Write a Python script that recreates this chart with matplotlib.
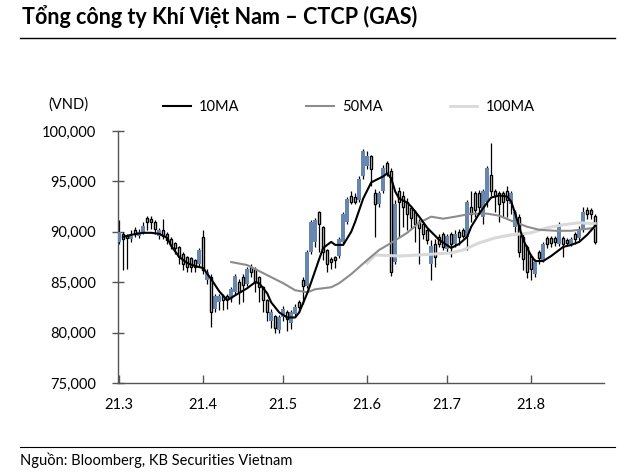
import numpy as np
import matplotlib
matplotlib.use('Agg')
import matplotlib.pyplot as plt
from matplotlib.lines import Line2D
from matplotlib.ticker import FuncFormatter

plt.rcParams['font.family'] = ['Lato', 'DejaVu Sans']

TITLE = 'Tổng công ty Khí Việt Nam – CTCP (GAS)'
SOURCE = 'Nguồn: Bloomberg, KB Securities Vietnam'
UNIT = '(VND)'

month_labels = ['21.3', '21.4', '21.5', '21.6', '21.7', '21.8']
month_start = [0, 21, 41, 62, 82, 103]   # trading-day index of each month

# daily prices, thousand VND
opens = [89.0, 89.8, 89.6, 89.3, 90.2, 89.6, 90.0, 91.4, 91.3, 91.0,
         89.6, 90.2, 89.8, 89.3, 88.9, 88.5, 87.8, 87.5, 87.4, 87.2,
         86.8, 89.5, 85.2, 85.5, 82.3, 83.0, 83.6, 83.6, 83.3, 84.0,
         85.0, 85.5, 84.8, 86.5, 86.3, 85.5, 84.5, 83.2, 81.2, 81.6,
         80.3, 81.5, 82.0, 81.0, 81.8, 83.0, 85.2, 84.6, 88.0, 89.0,
         92.0, 90.5, 88.2, 87.3, 87.5, 87.6, 89.0, 91.0, 93.6, 93.5,
         93.2, 95.5, 96.5, 97.5, 93.8, 92.8, 94.0, 96.8, 96.0, 87.0,
         94.0, 93.6, 93.0, 92.4, 92.0, 91.0, 90.8, 90.2, 86.8, 88.8,
         89.5, 89.8, 88.3, 89.8, 88.8, 90.0, 90.2, 89.5, 92.5, 93.8,
         93.8, 91.5, 93.0, 95.6, 94.0, 93.8, 93.8, 94.0, 92.8, 90.5,
         91.5, 89.5, 88.5, 87.6, 85.8, 88.0, 87.2, 89.4, 89.4, 89.4,
         88.8, 89.4, 89.2, 88.8, 89.8, 89.4, 90.2, 92.2, 92.2, 91.6]
highs = [91.2, 90.0, 89.8, 90.2, 90.5, 90.3, 91.0, 91.6, 91.6, 91.2,
         90.4, 91.3, 90.0, 89.5, 89.0, 88.6, 88.0, 87.6, 87.5, 87.3,
         88.4, 90.2, 86.3, 85.8, 83.8, 83.8, 83.8, 83.8, 84.5, 85.8,
         85.3, 85.8, 86.5, 86.8, 86.5, 85.6, 84.6, 83.3, 82.3, 81.7,
         81.7, 82.6, 82.2, 82.2, 82.8, 83.2, 85.5, 88.2, 91.2, 91.4,
         92.1, 90.6, 88.3, 87.5, 87.6, 89.5, 92.0, 93.5, 94.0, 93.8,
         95.5, 98.2, 98.0, 97.6, 94.2, 94.0, 96.6, 97.0, 96.3, 93.2,
         94.4, 94.0, 93.4, 92.6, 92.2, 91.3, 91.0, 90.4, 89.2, 89.3,
         89.8, 90.0, 89.8, 90.0, 90.2, 90.3, 90.4, 93.2, 94.0, 94.0,
         94.1, 94.2, 96.5, 98.8, 94.2, 94.0, 94.0, 94.5, 94.0, 92.2,
         91.8, 89.8, 88.7, 87.8, 87.3, 88.2, 89.0, 89.6, 89.6, 89.6,
         91.0, 89.6, 89.4, 89.5, 90.0, 90.6, 92.5, 92.5, 92.4, 91.8]
lows = [88.8, 86.2, 86.3, 89.0, 89.5, 89.4, 89.8, 90.2, 90.3, 89.8,
        89.3, 89.3, 88.8, 88.3, 87.8, 86.8, 86.2, 86.0, 86.0, 86.0,
        86.5, 85.8, 84.8, 80.6, 82.0, 82.2, 82.2, 82.3, 83.0, 83.8,
        82.8, 83.0, 84.6, 85.5, 84.0, 83.0, 82.0, 81.2, 80.5, 80.0,
        80.0, 81.2, 80.2, 80.4, 81.5, 82.0, 82.8, 84.4, 87.8, 88.5,
        88.0, 87.2, 86.0, 86.3, 86.4, 87.4, 88.8, 90.8, 92.8, 92.8,
        93.0, 95.2, 96.2, 94.5, 89.5, 92.5, 93.8, 95.5, 85.6, 86.8,
        89.5, 90.5, 90.2, 90.3, 89.0, 86.8, 89.3, 88.8, 85.2, 86.5,
        88.5, 88.2, 88.0, 87.5, 88.5, 88.7, 89.4, 88.2, 91.0, 91.5,
        91.8, 90.8, 92.5, 93.6, 92.0, 91.0, 91.5, 91.5, 91.8, 90.0,
        87.5, 86.2, 85.4, 85.2, 85.5, 86.8, 87.0, 88.4, 88.5, 88.6,
        88.6, 87.5, 88.6, 88.6, 88.8, 89.2, 90.0, 91.3, 91.3, 88.8]
closes = [90.0, 89.3, 89.4, 89.6, 89.8, 90.0, 90.6, 91.0, 91.0, 90.3,
          90.2, 89.6, 89.2, 88.7, 88.4, 87.5, 86.8, 86.5, 86.5, 86.5,
          88.2, 86.2, 86.0, 82.0, 83.6, 83.6, 83.2, 83.3, 84.3, 85.6,
          84.0, 84.7, 86.3, 86.0, 85.0, 84.5, 83.2, 82.0, 82.0, 80.5,
          81.5, 82.3, 81.3, 82.0, 82.5, 82.5, 84.6, 88.0, 91.0, 91.2,
          90.8, 88.0, 86.8, 87.0, 87.2, 89.3, 91.8, 93.3, 93.0, 93.0,
          95.2, 98.0, 97.5, 96.2, 92.8, 93.8, 96.3, 95.8, 86.0, 92.8,
          93.0, 92.5, 91.8, 91.4, 90.8, 90.4, 89.8, 89.2, 88.6, 87.5,
          88.8, 88.5, 89.6, 88.8, 89.8, 89.5, 89.6, 93.0, 91.8, 92.2,
          92.5, 94.0, 96.3, 94.0, 93.6, 92.8, 93.0, 93.2, 93.8, 92.0,
          88.0, 87.3, 86.0, 86.3, 87.0, 87.4, 88.8, 88.8, 88.9, 89.0,
          90.6, 88.8, 88.9, 89.3, 89.3, 90.3, 92.0, 91.8, 91.8, 89.0]

# moving averages as shown (day index, thousand VND)
ma10_day = [1, 3, 6, 8, 10, 12, 13, 15, 17, 19, 21, 23, 25, 27, 29, 32, 34, 35, 37, 38,
            40, 42, 44, 45, 47, 48, 50, 51, 53, 54, 56, 58, 59, 61, 63, 64, 66, 67, 68, 69,
            70, 72, 73, 75, 77, 78, 80, 83, 85, 87, 88, 90, 92, 93, 95, 97, 98, 99, 101, 103,
            104, 106, 108, 111, 113, 115, 117, 119]
ma10_val = [89.5, 89.7, 89.9, 89.9, 89.8, 89.4, 88.6, 87.5, 86.9, 86.6, 86.4, 85.3, 84.1, 83.2, 83.7, 84.4, 85.0, 84.9, 83.9, 83.0,
            82.0, 81.5, 81.5, 82.0, 83.9, 85.0, 87.3, 88.4, 89.0, 88.7, 88.7, 90.0, 91.0, 93.3, 94.9, 95.1, 95.5, 95.8, 95.3, 94.0,
            93.3, 92.9, 92.5, 91.5, 90.4, 90.0, 89.2, 88.4, 88.8, 89.5, 90.5, 91.8, 92.9, 93.4, 93.6, 93.5, 93.0, 91.8, 89.2, 87.6,
            87.1, 87.1, 87.6, 88.5, 88.7, 89.0, 89.7, 90.6]
ma50_day = [28, 32, 34, 38, 41, 44, 47, 49, 53, 55, 58, 62, 65, 68, 72, 75, 78, 81, 84, 88,
            92, 95, 98, 102, 105, 109, 113, 119]
ma50_val = [87.0, 86.7, 86.3, 85.5, 84.9, 84.2, 84.0, 84.3, 84.5, 84.9, 85.8, 87.2, 88.2, 88.9, 89.9, 90.9, 91.5, 91.3, 91.5, 91.8,
            91.8, 91.6, 91.1, 90.5, 90.2, 90.1, 90.1, 90.4]
ma100_day = [62, 64, 70, 75, 83, 86, 90, 94, 98, 103, 107, 111, 115, 119]
ma100_val = [86.9, 87.7, 87.6, 87.7, 87.9, 88.2, 88.9, 89.4, 89.7, 89.9, 90.4, 90.7, 90.9, 90.8]

BLUE = '#6787b0'
W, H = 619, 476

fig = plt.figure(figsize=(W / 100, H / 100), dpi=100)
ax = fig.add_axes([118 / W, 1 - 383 / H, (604 - 118) / W, (383 - 131) / H])

o = np.array(opens) * 1000
h = np.array(highs) * 1000
l = np.array(lows) * 1000
c = np.array(closes) * 1000
days = np.arange(len(c))
up = c >= o

ax.vlines(days, l, h, color='black', lw=0.9, zorder=2)
ax.bar(days[up], (c - o)[up], bottom=o[up], width=1.0, color=BLUE, zorder=3)
ax.bar(days[~up], (o - c)[~up], bottom=c[~up], width=0.6, color='white',
       edgecolor='black', lw=1.0, zorder=3)

ax.plot(ma100_day, np.array(ma100_val) * 1000, color='#d9d9d9', lw=2.2, zorder=4)
ax.plot(ma50_day, np.array(ma50_val) * 1000, color='#8c8c8c', lw=1.5, zorder=4)
ax.plot(ma10_day, np.array(ma10_val) * 1000, color='black', lw=1.5, zorder=5)

ax.set_xlim(-0.3, 121.2)
ax.set_ylim(75000, 100000)
ax.set_yticks(np.arange(75000, 100001, 5000))
ax.yaxis.set_major_formatter(FuncFormatter(lambda v, p: f'{v:,.0f}'))
ax.set_xticks(month_start)
ax.set_xticklabels(month_labels)

for s in ['top', 'right']:
    ax.spines[s].set_visible(False)
for s in ['left', 'bottom']:
    ax.spines[s].set_color('#555555')
    ax.spines[s].set_linewidth(1)
ax.tick_params(axis='y', direction='inout', length=8, width=1, color='#555555',
               labelsize=10.5, pad=12)
ax.tick_params(axis='x', direction='in', length=6, width=1, color='#555555',
               labelsize=10.5, pad=11)

handles = [Line2D([], [], color='black', lw=1.5),
           Line2D([], [], color='#8c8c8c', lw=1.5),
           Line2D([], [], color='#d9d9d9', lw=2)]
fig.legend(handles, ['10MA', '50MA', '100MA'], ncol=3, frameon=False,
           loc='center left', bbox_to_anchor=(163 / W, 1 - 107 / H),
           handlelength=1.9, handletextpad=0.55, columnspacing=4.6,
           fontsize=10.5, borderpad=0, borderaxespad=0)

fig.text(22 / W, 1 - 17 / H, TITLE, fontsize=15.5, fontweight='bold', va='center')
fig.add_artist(Line2D([20 / W, 615 / W], [1 - 38 / H] * 2, color='black', lw=1))
fig.text(48 / W, 1 - 105 / H, UNIT, fontsize=10.5, va='center')
fig.add_artist(Line2D([20 / W, 615 / W], [1 - 447 / H] * 2, color='black', lw=0.8))
fig.text(20 / W, 1 - 460 / H, SOURCE, fontsize=10.5, va='center')

fig.savefig('out.png', dpi=100)
